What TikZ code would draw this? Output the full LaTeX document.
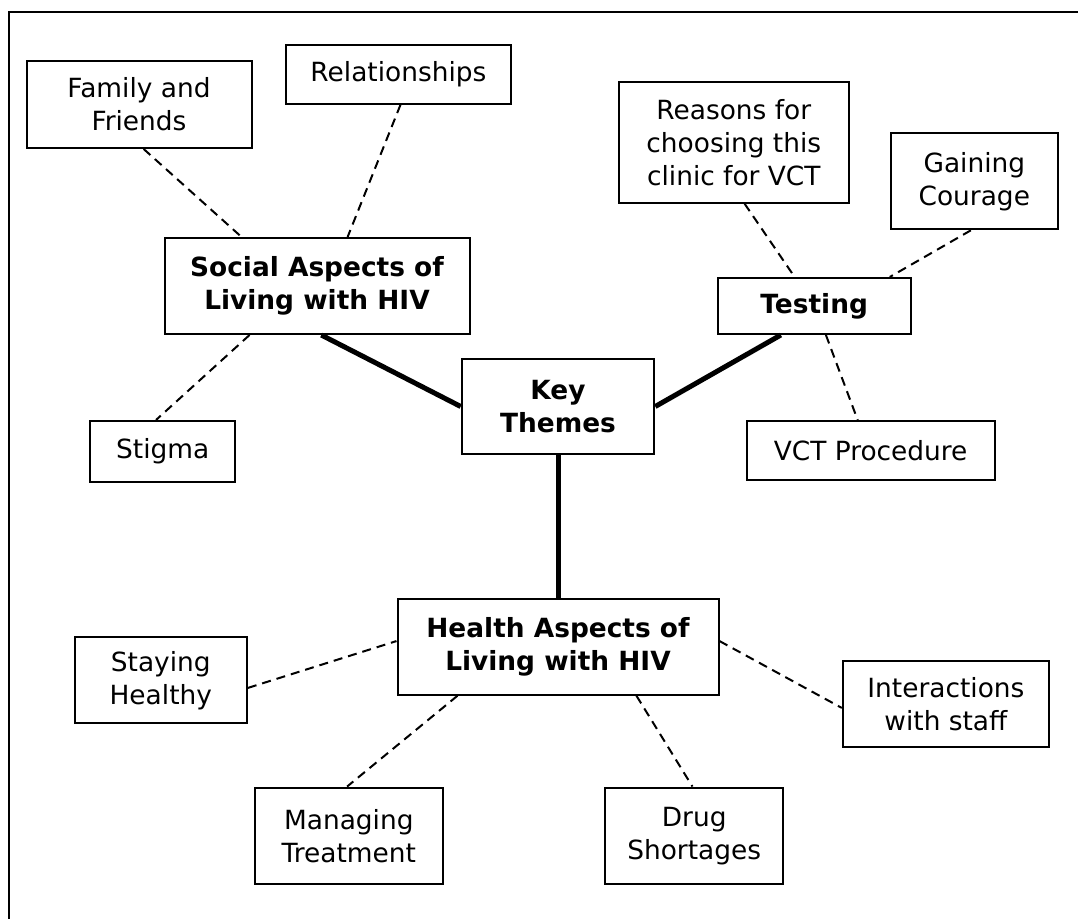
\documentclass[tikz,border=0pt]{standalone}
\usepackage{fontspec}
\setmainfont{DejaVu Sans}
\usepackage{tikz}

\begin{document}
\begin{tikzpicture}[x=0.5pt, y=-0.5pt,
	every node/.style={draw, line width=1pt, align=center, inner sep=0pt, font=\fontsize{13.2}{16.5}\selectfont},
	thm/.style={font=\fontsize{13.2}{16.5}\selectfont\bfseries},
	link/.style={line width=1pt, dash pattern=on 4.5pt off 3pt},
	spoke/.style={line width=2.5pt}]

\useasboundingbox (0,0) rectangle (1078,919);

% Outer frame (runs off the right and bottom)
\draw[line width=1pt] (9,919) -- (9,12) -- (1078,12);

% Centre and the three themes
\node[thm, minimum width=96.3pt, minimum height=47.8pt] (key) at (558,406.5) {Key\\Themes};
\node[thm, minimum width=152.5pt, minimum height=48pt] (social) at (317,286) {Social Aspects of\\Living with HIV};
\node[thm, minimum width=96.4pt, minimum height=28pt] (testing) at (814.2,306) {Testing};
\node[thm, minimum width=160.5pt, minimum height=48pt] (health) at (558,646.7) {Health Aspects of\\Living with HIV};

% Sub-themes, social
\node[minimum width=112.5pt, minimum height=43.5pt] (fam) at (139,104.5) {Family and\\Friends};
\node[minimum width=112.5pt, minimum height=29.5pt] (rel) at (398.4,74.2) {Relationships};
\node[minimum width=72.5pt, minimum height=30.5pt] (stigma) at (162.7,451.5) {Stigma};

% Sub-themes, testing
\node[minimum width=115.2pt, minimum height=60.2pt] (reasons) at (733.8,142.5) {Reasons for\\choosing this\\clinic for VCT};
\node[minimum width=83.7pt, minimum height=48pt] (courage) at (974.3,181.3) {Gaining\\Courage};
\node[minimum width=124pt, minimum height=29.2pt] (vct) at (870.6,450.5) {VCT Procedure};

% Sub-themes, health
\node[minimum width=86.1pt, minimum height=43pt] (staying) at (160.8,680.3) {Staying\\Healthy};
\node[minimum width=103.1pt, minimum height=43pt] (interact) at (945.9,704.3) {Interactions\\with staff};
\node[minimum width=94pt, minimum height=48.2pt] (managing) at (348.8,835.8) {Managing\\Treatment};
\node[minimum width=89pt, minimum height=48.2pt] (drug) at (694.2,835.8) {Drug\\Shortages};

% Thick spokes from the centre
\draw[spoke] (social.275) -- (key.west);
\draw[spoke] (testing.221) -- (key.east);
\draw[spoke] (key.south) -- (health.north);

% Dashed links to sub-themes
\foreach \a/\b in {fam.276/social.147, rel.274/social.58, social.216/stigma.102,
	reasons.280/testing.124, courage.266/testing.21, testing.292/vct.113,
	staying.355/health.178, health.206/managing.92, health.2/interact.182, health.328/drug.92} {
	\draw[link] (\a) -- (\b);
}

\end{tikzpicture}
\end{document}
